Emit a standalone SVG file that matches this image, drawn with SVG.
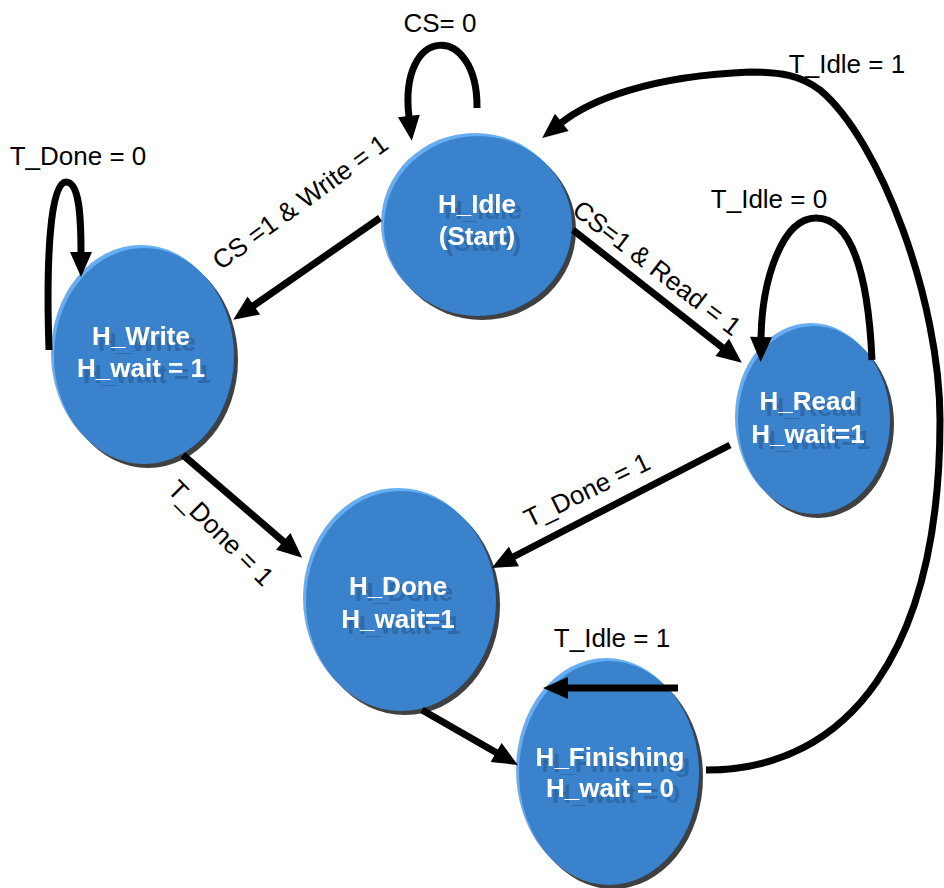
<svg xmlns="http://www.w3.org/2000/svg" width="944" height="888" viewBox="0 0 944 888">
  <defs>
    <marker id="arrow" markerUnits="userSpaceOnUse" markerWidth="30" markerHeight="30" viewBox="-2 -15 30 30" refX="0" refY="0" orient="auto" overflow="visible">
      <path d="M-1,-11 L24,0 L-1,11 z" fill="#000"/>
    </marker>
    <!-- soft offset copy of the state names -->
    <filter id="textShadow" x="-20%" y="-30%" width="150%" height="180%">
      <feOffset in="SourceAlpha" dx="6" dy="6" result="off"/>
      <feFlood flood-color="#2f6aaa"/>
      <feComposite in2="off" operator="in" result="shade"/>
      <feMerge>
        <feMergeNode in="shade"/>
        <feMergeNode in="SourceGraphic"/>
      </feMerge>
    </filter>
    <style>
      .edge { fill: none; stroke: #000; stroke-width: 7; marker-end: url(#arrow); }
      .lbl { font-family: "Liberation Sans", Arial, sans-serif; font-size: 26px; fill: #000; }
      .shadow { fill: #404040; }
      .rim { fill: #66aef4; }
      .body { fill: #3a82cc; }
      .name { font-family: "Liberation Sans", Arial, sans-serif; font-size: 26px; font-weight: bold; text-anchor: middle; fill: #ffffff; filter: url(#textShadow); }
    </style>
  </defs>
  <rect width="944" height="888" fill="#ffffff"/>

  <!-- states -->
  <g id="H_Idle">
    <ellipse class="shadow" cx="482" cy="230" rx="94" ry="90"/>
    <ellipse class="rim" cx="475" cy="223" rx="94" ry="90"/>
    <ellipse class="body" cx="478" cy="226" rx="94" ry="90"/>
    <text class="name"><tspan x="477" y="213">H_Idle</tspan><tspan x="477" y="245">(Start)</tspan></text>
  </g>

  <g id="H_Write">
    <ellipse class="shadow" cx="148" cy="360" rx="90" ry="108"/>
    <ellipse class="rim" cx="141" cy="353" rx="90" ry="108"/>
    <ellipse class="body" cx="144" cy="356" rx="90" ry="108"/>
    <text class="name"><tspan x="141" y="345">H_Write</tspan><tspan x="141" y="377">H_wait = 1</tspan></text>
  </g>

  <g id="H_Read">
    <ellipse class="shadow" cx="818" cy="424" rx="76" ry="94"/>
    <ellipse class="rim" cx="811" cy="417" rx="76" ry="94"/>
    <ellipse class="body" cx="814" cy="420" rx="76" ry="94"/>
    <text class="name"><tspan x="808" y="410">H_Read</tspan><tspan x="808" y="443">H_wait=1</tspan></text>
  </g>

  <g id="H_Done">
    <ellipse class="shadow" cx="405" cy="605" rx="95" ry="110"/>
    <ellipse class="rim" cx="398" cy="598" rx="95" ry="110"/>
    <ellipse class="body" cx="401" cy="601" rx="95" ry="110"/>
    <text class="name"><tspan x="398" y="595">H_Done</tspan><tspan x="398" y="628">H_wait=1</tspan></text>
  </g>

  <g id="H_Finishing">
    <ellipse class="shadow" cx="613" cy="777" rx="90" ry="112"/>
    <ellipse class="rim" cx="606" cy="770" rx="90" ry="112"/>
    <ellipse class="body" cx="609" cy="773" rx="90" ry="112"/>
    <text class="name"><tspan x="610" y="766">H_Finishing</tspan><tspan x="610" y="797">H_wait = 0</tspan></text>
  </g>

  <!-- transitions -->
  <g id="connectors">
    <!-- H_Idle self loop -->
    <path class="edge" d="M477,108 C478,22 398,24 409,117"/>
    <!-- H_Write self loop -->
    <path class="edge" d="M49,350 C46,260 50,182 66,182 C80,182 81,220 81,253"/>
    <!-- H_Idle -> H_Write -->
    <path class="edge" d="M380,218 L253,306"/>
    <!-- H_Idle -> H_Read -->
    <path class="edge" d="M573,230 L723,348"/>
    <!-- H_Read self loop -->
    <path class="edge" d="M872,360 C868,270 850,218 816,218 C782,218 762,280 761,338"/>
    <!-- H_Finishing -> H_Idle -->
    <path class="edge" d="M706,770 C850,770 940,650 940,420 C940,300 880,140 820,90 C800,75 780,72 750,72 C650,76 590,100 561,123"/>
    <!-- H_Write -> H_Done -->
    <path class="edge" d="M183,455 L284,542"/>
    <!-- H_Read -> H_Done -->
    <path class="edge" d="M730,445 L513,557"/>
    <!-- H_Done -> H_Finishing -->
    <path class="edge" d="M422,710 L497,753"/>
    <!-- H_Finishing self loop -->
    <path class="edge" d="M678,688 L567,688"/>
  </g>

  <!-- transition labels -->
  <g id="labels">
    <text class="lbl" x="440" y="32" text-anchor="middle">CS= 0</text>
    <text class="lbl" x="78" y="165" text-anchor="middle">T_Done = 0</text>
    <text class="lbl" x="847" y="73" text-anchor="middle">T_Idle = 1</text>
    <text class="lbl" x="769" y="208" text-anchor="middle">T_Idle = 0</text>
    <text class="lbl" x="612" y="647" text-anchor="middle">T_Idle = 1</text>
    <text class="lbl" text-anchor="middle" dominant-baseline="central" transform="translate(300,202) rotate(-36)">CS =1 &amp; Write = 1</text>
    <text class="lbl" text-anchor="middle" dominant-baseline="central" transform="translate(657,268) rotate(37.5)">CS=1 &amp; Read = 1</text>
    <text class="lbl" text-anchor="middle" dominant-baseline="central" transform="translate(221,533) rotate(45)">T_Done = 1</text>
    <text class="lbl" text-anchor="middle" dominant-baseline="central" transform="translate(587,490) rotate(-26)">T_Done = 1</text>
  </g>
</svg>
